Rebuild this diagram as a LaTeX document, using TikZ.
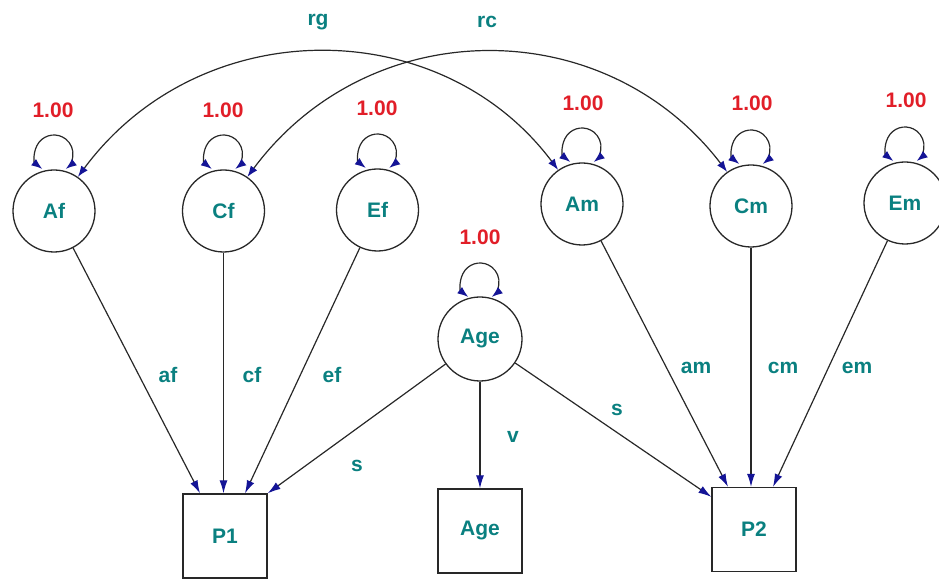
\documentclass[tikz,border=0pt]{standalone}
\usepackage{fontspec}
\setmainfont{Liberation Sans}
\usetikzlibrary{arrows.meta}
\definecolor{txt}{RGB}{10,128,128}
\definecolor{val}{RGB}{225,30,40}
\definecolor{tipc}{RGB}{20,20,150}
\definecolor{linec}{RGB}{40,40,40}
\begin{document}
\begin{tikzpicture}[x=1pt,y=1pt,
  lat/.style={circle,draw=linec,line width=1.3pt,minimum size=82pt,inner sep=0pt,
    font=\fontsize{21}{22}\selectfont\bfseries,text=txt},
  obs/.style={rectangle,draw=linec,line width=1.3pt,minimum size=84pt,inner sep=0pt,
    font=\fontsize{21}{22}\selectfont\bfseries,text=txt},
  conn/.style={draw=linec,line width=1.2pt,-{Latex[length=13pt,width=8pt,color=tipc]}},
  dconn/.style={draw=linec,line width=1.2pt,{Latex[length=11pt,width=8pt,color=tipc]}-{Latex[length=11pt,width=8pt,color=tipc]}},
  lbl/.style={font=\fontsize{21}{22}\selectfont\bfseries,text=txt,inner sep=0pt},
  vlbl/.style={font=\fontsize{21}{22}\selectfont\bfseries,text=val,inner sep=0pt}]
\useasboundingbox (0,0) rectangle (939,581);

% latent variables
\node[lat] (Af)  at (54,370)  {Af};
\node[lat] (Cf)  at (223.5,370) {Cf};
\node[lat] (Ef)  at (377.5,371) {Ef};
\node[lat] (Am)  at (582,377) {Am};
\node[lat] (Cm)  at (751,375) {Cm};
\node[lat] (Em)  at (905,378) {Em};
\node[lat,minimum size=84pt] (Age) at (480,242) {Age};

% observed variables
\node[obs] (P1) at (225,45) {P1};
\node[obs] (AgeBox) at (480,50) {Age};
\node[obs] (P2) at (754,51.5) {P2};

% variance values
\node[vlbl] (vAf) at (53,471) {1.00};
\node[vlbl] (vCf) at (223,471) {1.00};
\node[vlbl] (vEf) at (377,473) {1.00};
\node[vlbl] (vAm) at (583,478) {1.00};
\node[vlbl] (vCm) at (752,478) {1.00};
\node[vlbl] (vEm) at (906,481) {1.00};
\node[vlbl] (vAge) at (480,344) {1.00};

% self loops
\foreach \n in {Af,Cf,Ef,Am,Cm,Em,Age}{
  \path ([yshift=57pt]\n.center) ++(232:19pt) coordinate (s\n);
  \draw[dconn] (s\n) arc[start angle=232,end angle=-52,radius=19pt];
}

% correlations
\draw[dconn] (Af.55) .. controls (200,569) and (440,569) .. (Am.125);
\draw[dconn] (Cf.55) .. controls (370,569) and (605,569) .. (Cm.125);

% paths
\draw[conn] (Af) -- ([xshift=-25pt]P1.north);
\draw[conn] (Cf.south) -- (Cf.south |- P1.north);
\draw[conn] (Ef) -- ([xshift=20pt]P1.north);
\draw[conn] (Age) -- (P1.north east);
\draw[conn] (Age.south) -- (AgeBox.north);
\draw[conn] (Age) -- ([yshift=-10pt]P2.north west);
\draw[conn] (Am) -- ([xshift=-26pt]P2.north);
\draw[conn] (Cm.south) -- (Cm.south |- P2.north);
\draw[conn] (Em) -- ([xshift=19pt]P2.north);

% path labels
\node[lbl] (lrg) at (318,559) {rg};
\node[lbl] (lrc) at (487,559) {rc};
\node[lbl] (laf) at (168,206) {af};
\node[lbl] (lcf) at (252,206) {cf};
\node[lbl] (lef) at (332,206) {ef};
\node[lbl] (ls1) at (357,115) {s};
\node[lbl] (lv) at (513,144) {v};
\node[lbl] (ls2) at (617,171) {s};
\node[lbl] (lam) at (696,213) {am};
\node[lbl] (lcm) at (783,213) {cm};
\node[lbl] (lem) at (857,213) {em};
\end{tikzpicture}
\end{document}
